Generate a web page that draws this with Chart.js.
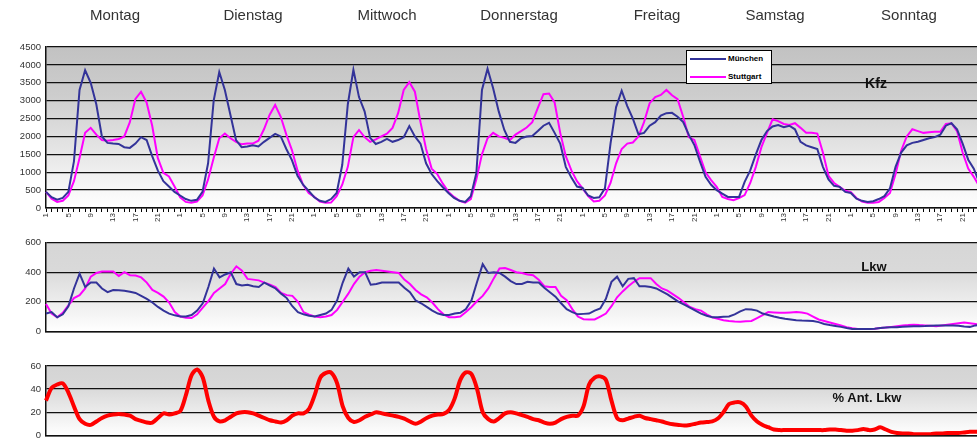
<!DOCTYPE html>
<html lang="de">
<head>
<meta charset="UTF-8">
<title>Kfz / Lkw Wochenganglinie</title>
<style>
    html, body { margin:0; padding:0; background:#fff; overflow:hidden; }
    body { width:977px; height:446px; position:relative; font-family:"Liberation Sans", Arial, sans-serif; }
    canvas { position:absolute; left:0; }
    .day { position:absolute; top:6px; font-size:15px; color:#333; transform:translateX(-50%); white-space:nowrap; }
    .tag { position:absolute; font-weight:bold; color:#111; transform:translate(-50%,-50%); white-space:nowrap; }
    #legend { position:absolute; left:686px; top:50px; width:84px; height:32px; background:#fff; border:1px solid #000; font-size:8px; font-weight:bold; }
    #legend .row { position:absolute; left:3px; height:10px; }
    #legend .ln { position:absolute; left:0; top:4px; width:36px; height:2px; }
    #legend .tx { position:absolute; left:38px; top:0; line-height:10px; }
</style>
</head>
<body>
    <canvas id="kfz" width="990" height="232" style="top:0"></canvas>
    <canvas id="lkw" width="990" height="110" style="top:232px"></canvas>
    <canvas id="anteil" width="990" height="104" style="top:342px"></canvas>

    <div id="days"></div>
    <div id="legend">
        <div class="row" style="top:3px"><div class="ln" style="background:#333399"></div><div class="tx">München</div></div>
        <div class="row" style="top:21px"><div class="ln" style="background:#ff00ff"></div><div class="tx">Stuttgart</div></div>
    </div>
    <div class="tag" style="left:876px; top:83px; font-size:14px">Kfz</div>
    <div class="tag" style="left:874px; top:266px; font-size:13px">Lkw</div>
    <div class="tag" style="left:867px; top:397px; font-size:13px">% Ant. Lkw</div>

    <script src="https://cdn.jsdelivr.net/npm/chart.js"></script>
    <script>
        // Wochentage und Stunden (1..24 je Tag)
        const days = ['Montag', 'Dienstag', 'Mittwoch', 'Donnerstag', 'Freitag', 'Samstag', 'Sonntag'];
        const hourLabels = ['1','2','3','4','5','6','7','8','9','10','11','12','13','14','15','16','17','18','19','20','21','22','23','24'];

        // Kfz pro Stunde, Mo..So
        const muenchenKfz = [
            450, 300, 230, 280, 450, 1300, 3300, 3850, 3500, 2900, 2000, 1820, 1800, 1790, 1700, 1680, 1800, 1980, 1900, 1450, 1050, 750, 600, 450,
            350, 250, 200, 230, 450, 1250, 3000, 3800, 3300, 2600, 1900, 1700, 1720, 1750, 1720, 1850, 1960, 2070, 2000, 1650, 1340, 900, 650, 480,
            300, 200, 170, 250, 420, 1200, 2900, 3860, 3100, 2700, 1960, 1790, 1850, 1930, 1850, 1900, 1980, 2290, 2000, 1800, 1250, 950, 750, 580,
            420, 280, 200, 170, 330, 980, 3300, 3890, 3350, 2700, 2180, 1850, 1820, 1950, 2000, 2010, 2150, 2300, 2380, 2100, 1800, 1150, 850, 600,
            560, 350, 280, 300, 550, 1800, 2820, 3280, 2850, 2500, 2060, 2100, 2300, 2400, 2580, 2650, 2660, 2550, 2400, 2050, 1760, 1300, 870, 650,
            500, 400, 310, 305, 310, 730, 1050, 1500, 1900, 2150, 2280, 2320, 2260, 2300, 2200, 1850, 1750, 1700, 1650, 1150, 800, 620, 590, 450,
            420, 260, 200, 170, 190, 250, 330, 550, 1150, 1550, 1750, 1820, 1850, 1900, 1950, 1980, 2050, 2300, 2370, 2200, 1800, 1350, 1100, 700
        ];
        const stuttgartKfz = [
            450, 260, 170, 200, 350, 750, 1400, 2100, 2240, 2050, 1900, 1880, 1900, 1930, 2000, 2400, 3050, 3250, 2950, 2300, 1400, 980, 880, 600,
            300, 170, 150, 180, 350, 800, 1400, 1950, 2080, 1950, 1850, 1780, 1800, 1800, 1880, 2200, 2600, 2880, 2550, 2050, 1620, 1050, 650, 420,
            310, 180, 145, 150, 330, 650, 1150, 1980, 2180, 1980, 1850, 1920, 2000, 2080, 2240, 2650, 3300, 3520, 3250, 2400, 1650, 1100, 950, 680,
            450, 310, 200, 150, 250, 800, 1500, 1950, 2100, 2000, 1960, 1900, 2050, 2150, 2250, 2400, 2800, 3180, 3200, 2950, 2100, 1450, 1050, 750,
            550, 330, 180, 200, 350, 700, 1250, 1650, 1800, 1830, 2000, 2400, 2930, 3100, 3160, 3300, 3150, 3040, 2550, 1980, 1900, 1450, 1000, 780,
            590, 310, 250, 220, 280, 360, 700, 1150, 1700, 2100, 2480, 2430, 2350, 2320, 2370, 2240, 2100, 2100, 2080, 1550, 900, 700, 590, 480,
            440, 280, 180, 150, 150, 170, 280, 420, 950, 1600, 2000, 2200, 2150, 2100, 2120, 2130, 2130, 2350, 2370, 2150, 1550, 1100, 870, 600
        ];

        // Lkw pro Stunde, Mo..So
        const muenchenLkw = [
            120, 130, 95, 115, 170, 290, 390, 300, 330, 330, 290, 265, 280, 278, 275, 268, 260, 240, 220, 195, 165, 140, 120, 108,
            100, 100, 110, 140, 190, 300, 425, 365, 385, 400, 320, 310, 315, 305, 300, 330, 310, 290, 255, 225, 170, 130, 115, 105,
            100, 110, 120, 145, 210, 330, 425, 370, 400, 400, 315, 320, 330, 330, 330, 330, 295, 265, 210, 190, 165, 140, 120, 110,
            110, 120, 125, 150, 210, 335, 455, 395, 400, 395, 370, 340, 320, 320, 335, 330, 330, 295, 265, 235, 190, 150, 130, 115,
            118, 120, 140, 155, 220, 335, 370, 305, 355, 360, 305, 305, 300, 290, 270, 250, 225, 200, 180, 160, 140, 120, 105, 95,
            95, 98, 100, 115, 135, 150, 148, 140, 120, 110, 100, 92, 85, 80, 75, 73, 72, 70, 62, 50, 42, 36, 30, 22,
            15, 15, 15, 15, 18, 22, 25, 27, 28, 30, 32, 34, 35, 36, 38, 40, 40, 40, 40, 38, 32, 30, 40, 45
        ];
        const stuttgartLkw = [
            185, 120, 95, 125, 175, 225, 245, 290, 370, 395, 405, 405, 405, 375, 400, 380, 378, 365, 330, 280, 260, 235, 195, 130,
            100, 92, 90, 115, 160, 205, 260, 290, 320, 390, 440, 410, 355, 350, 345, 330, 315, 300, 260, 245, 240, 200, 130, 112,
            100, 95, 100, 110, 145, 200, 255, 320, 370, 400, 410, 415, 410, 405, 400, 395, 350, 320, 280, 250, 230, 195, 150, 115,
            95, 95, 100, 130, 165, 205, 240, 290, 360, 425, 428, 415, 400, 395, 385, 380, 350, 305, 300, 300, 240, 210, 150, 100,
            82, 80, 80, 100, 120, 170, 230, 270, 305, 335, 360, 360, 360, 320, 290, 275, 250, 225, 195, 165, 150, 140, 115, 95,
            85, 75, 70, 66, 65, 68, 70, 90, 110, 130, 128, 125, 125, 128, 130, 128, 120, 100, 80, 70, 60, 50, 40, 28,
            20, 16, 15, 15, 18, 22, 25, 30, 35, 40, 42, 45, 42, 40, 38, 35, 40, 45, 50, 55, 60, 55, 50, 45
        ];

        // Anteil Lkw in %
        const anteilLkw = [
            30, 41, 44, 45, 37, 25, 14, 10, 9, 12, 15, 17, 18, 18.5, 18, 17, 14, 12.5, 11, 11, 15, 19, 18, 19,
            21, 35, 52, 57, 50, 30, 16, 12, 13, 16, 19, 20, 20, 19, 17, 15, 13, 12, 11, 13, 17, 19, 19, 23,
            35, 50, 54, 54, 45, 25, 15, 11.5, 13, 16, 18, 20, 19, 18, 17, 16, 14.5, 12, 10, 12, 15, 17, 18, 18.5,
            22, 32, 48, 54.5, 53, 40, 20, 14, 12, 15, 19, 20, 19, 17.5, 16, 14, 13, 11, 10, 11, 14, 16, 17, 17,
            25, 44, 50, 51, 48, 30, 15, 13, 14.5, 16, 17, 15, 14, 13, 12, 10.5, 9.5, 9, 8.5, 9, 10, 11, 11.5, 12,
            14.5, 20, 27, 28.5, 28.5, 25, 17, 12, 9, 7, 5, 4.5, 4.5, 4.5, 4.5, 4.5, 4.5, 4.5, 4.5, 4.5, 5, 5, 4.5, 4,
            4, 4.5, 5.5, 4.5, 5, 7, 5, 3, 2, 1.5, 1.5, 1, 1, 1, 1, 1.5, 1.5, 2, 2, 2, 2.5, 3, 3, 3
        ];

        // Kategorien: 7 x 24 Stunden
        const labels = [];
        days.forEach(function(){ hourLabels.forEach(function(h){ labels.push(h); }); });

        // Tagesbeschriftung oben
        const dayX = [115, 253, 387, 519, 657, 775, 909];
        days.forEach(function(d, i){
            const el = document.createElement('div');
            el.className = 'day';
            el.style.left = dayX[i] + 'px';
            el.textContent = d;
            document.getElementById('days').appendChild(el);
        });

        Chart.defaults.font.family = '"Liberation Sans", Arial, sans-serif';
        Chart.defaults.color = '#333';

        // grauer Verlauf in der Zeichenfläche
        const panelBg = {
            id: 'panelBg',
            beforeDraw(chart, args, opts) {
                const a = chart.chartArea, c = chart.ctx;
                const g = c.createLinearGradient(0, a.top, 0, a.bottom);
                g.addColorStop(0, opts.top);
                g.addColorStop(0.3, opts.mid);
                g.addColorStop(1, '#ffffff');
                c.save();
                c.fillStyle = g;
                c.fillRect(a.left, a.top, a.right - a.left, a.bottom - a.top);
                c.restore();
            }
        };

        const makePanel = function(id, datasets, yMax, yStep, padTop, xHeight, showX, bg){
            return new Chart(document.getElementById(id), {
                type: 'line',
                data: { labels: labels, datasets: datasets },
                plugins: [panelBg],
                options: {
                    responsive: false,
                    animation: false,
                    events: [],
                    layout: { padding: { top: padTop, right: 9, left: 0, bottom: 0 } },
                    plugins: { legend: { display: false }, tooltip: { enabled: false }, panelBg: bg },
                    elements: { point: { radius: 0 } },
                    scales: {
                        x: {
                            afterFit: function(s){ s.height = xHeight; },
                            grid: { display: showX, drawOnChartArea: false, drawTicks: true, tickLength: 4, color: '#000', lineWidth: 1 },
                            border: { display: true, color: '#111', width: 1.5 },
                            ticks: {
                                display: showX,
                                autoSkip: false,
                                minRotation: 90,
                                maxRotation: 90,
                                padding: 1,
                                font: { size: 8 },
                                callback: function(val, idx){ return idx % 4 === 0 ? this.getLabelForValue(val) : ''; }
                            }
                        },
                        y: {
                            min: 0,
                            max: yMax,
                            afterFit: function(s){ s.width = 46; },
                            grid: { color: '#111', lineWidth: 1.3, drawTicks: false },
                            border: { display: true, color: '#111', width: 1.5 },
                            ticks: {
                                stepSize: yStep,
                                padding: 5,
                                font: { size: 9.5 },
                                callback: function(v){ return String(v); }  // ohne Tausendertrennzeichen
                            }
                        }
                    }
                }
            });
        };

        makePanel('kfz', [
            { label: 'München', data: muenchenKfz, borderColor: '#333399', borderWidth: 2, tension: 0 },
            { label: 'Stuttgart', data: stuttgartKfz, borderColor: '#ff00ff', borderWidth: 2, tension: 0 }
        ], 4500, 500, 47, 24, true, { top: '#c2c2c2', mid: '#cdcdcd' });

        makePanel('lkw', [
            { label: 'München', data: muenchenLkw, borderColor: '#333399', borderWidth: 2, tension: 0 },
            { label: 'Stuttgart', data: stuttgartLkw, borderColor: '#ff00ff', borderWidth: 2, tension: 0 }
        ], 600, 200, 9, 5, false, { top: '#d6d6d6', mid: '#d9d9d9' });

        makePanel('anteil', [
            { label: '% Ant. Lkw', data: anteilLkw, borderColor: '#ff0000', borderWidth: 4, tension: 0.3 }
        ], 60, 20, 24, 2, false, { top: '#d4d4d4', mid: '#d8d8d8' });
    </script>
</body>
</html>
